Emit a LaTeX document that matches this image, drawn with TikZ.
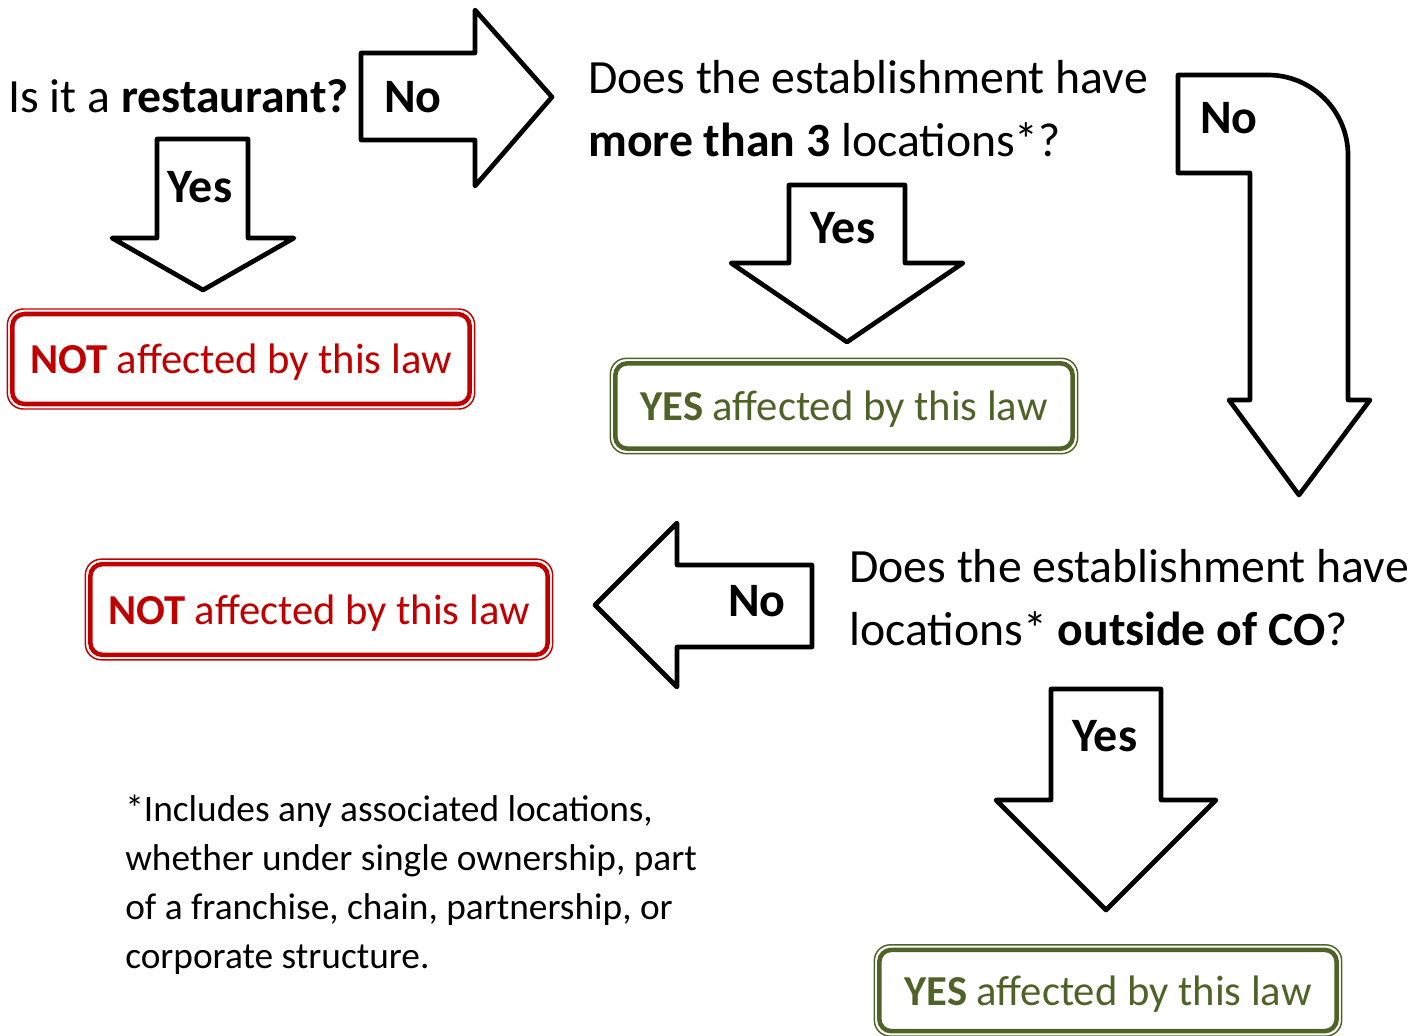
\documentclass[tikz,border=0pt]{standalone}
\usepackage{fontspec}
\setmainfont{Carlito}
\definecolor{lawred}{HTML}{C00000}
\definecolor{lawgreen}{HTML}{4F6228}
\tikzset{
  blockarrow/.style={draw=black, line width=3.5pt, line join=round, fill=white},
  arrowlabel/.style={font=\fontsize{36}{43}\selectfont\bfseries, inner sep=0pt},
  qline/.style={font=\fontsize{35.8}{43}\selectfont, anchor=base west, inner sep=0pt},
  noteline/.style={font=\fontsize{28}{34}\selectfont, anchor=base west, inner sep=0pt},
  resbox/.style={draw=#1, text=#1, line width=3.4pt, rounded corners=9pt, outer sep=0pt,
    font=\fontsize{32}{38}\selectfont, minimum width=343pt, inner sep=0pt,
    text height=28pt, text depth=6pt},
  resouter/.style={draw=#1, line width=1.1pt, rounded corners=12pt}
}
\begin{document}
\begin{tikzpicture}[x=0.75pt,y=-0.75pt]
\useasboundingbox (0,0) rectangle (1422,1036);

% questions
\node[qline] (q1) at (8,112) {Is it a \textbf{restaurant?}};
\node[qline] (q2a) at (588,93) {Does the establishment have};
\node[qline] (q2b) at (588,156) {\textbf{more than 3} locations*?};
\node[qline] (q3a) at (849,582) {Does the establishment have};
\node[qline] (q3b) at (849,645) {locations* \textbf{outside of CO}?};

% arrow 1: right, No
\draw[blockarrow] (361,53) -- (475,53) -- (475,10) -- (552,97) -- (475,186) -- (475,140) -- (361,140) -- cycle;
\node[arrowlabel] (no1) at (413,97) {No};

% arrow 2: down, Yes (left)
\draw[blockarrow] (157,139) -- (248,139) -- (248,238) -- (294,238) -- (203,290) -- (112,238) -- (157,238) -- cycle;
\node[arrowlabel] (yes1) at (200,187) {Yes};

% arrow 3: down, Yes (middle)
\draw[blockarrow] (789,185) -- (905,185) -- (905,263) -- (963,263) -- (847,342) -- (731,263) -- (789,263) -- cycle;
\node[arrowlabel] (yes2) at (843,228) {Yes};

% arrow 4: curved, No
\draw[blockarrow] (1178,75) -- (1268,75) .. controls (1312,75) and (1348,111) .. (1348,155) -- (1348,400) -- (1370,400) -- (1299,495) -- (1229,400) -- (1250,400) -- (1250,173) -- (1178,173) -- cycle;
\node[arrowlabel] (no2) at (1229,118) {No};

% arrow 5: left, No
\draw[blockarrow] (812,565) -- (677,565) -- (677,523) -- (595,605) -- (677,687) -- (677,647) -- (812,647) -- cycle;
\node[arrowlabel] (no3) at (757,601) {No};

% arrow 6: down, Yes (bottom)
\draw[blockarrow] (1051,689) -- (1161,689) -- (1161,800) -- (1216,800) -- (1106,910) -- (996,800) -- (1051,800) -- cycle;
\node[arrowlabel] (yes3) at (1105,736) {Yes};

% result boxes
\node[resbox=lawred, minimum height=67.5pt] (not1) at (241,359) {\textbf{NOT} affected by this law};
\draw[resouter=lawred] ([shift={(-3.75pt,3.75pt)}]not1.north west) rectangle ([shift={(3.75pt,-3.75pt)}]not1.south east);

\node[resbox=lawgreen, minimum height=64pt] (yesbox1) at (844,406) {\textbf{YES} affected by this law};
\draw[resouter=lawgreen] ([shift={(-3.75pt,3.75pt)}]yesbox1.north west) rectangle ([shift={(3.75pt,-3.75pt)}]yesbox1.south east);

\node[resbox=lawred, minimum height=68pt] (not2) at (319,609.5) {\textbf{NOT} affected by this law};
\draw[resouter=lawred] ([shift={(-3.75pt,3.75pt)}]not2.north west) rectangle ([shift={(3.75pt,-3.75pt)}]not2.south east);

\node[resbox=lawgreen, minimum height=61pt] (yesbox2) at (1108,990.5) {\textbf{YES} affected by this law};
\draw[resouter=lawgreen] ([shift={(-3.75pt,3.75pt)}]yesbox2.north west) rectangle ([shift={(3.75pt,-3.75pt)}]yesbox2.south east);

% footnote
\node[noteline] (n1) at (125,821) {*Includes any associated locations,};
\node[noteline] (n2) at (125,870) {whether under single ownership, part};
\node[noteline] (n3) at (125,919) {of a franchise, chain, partnership, or};
\node[noteline] (n4) at (125,968) {corporate structure.};
\end{tikzpicture}
\end{document}
